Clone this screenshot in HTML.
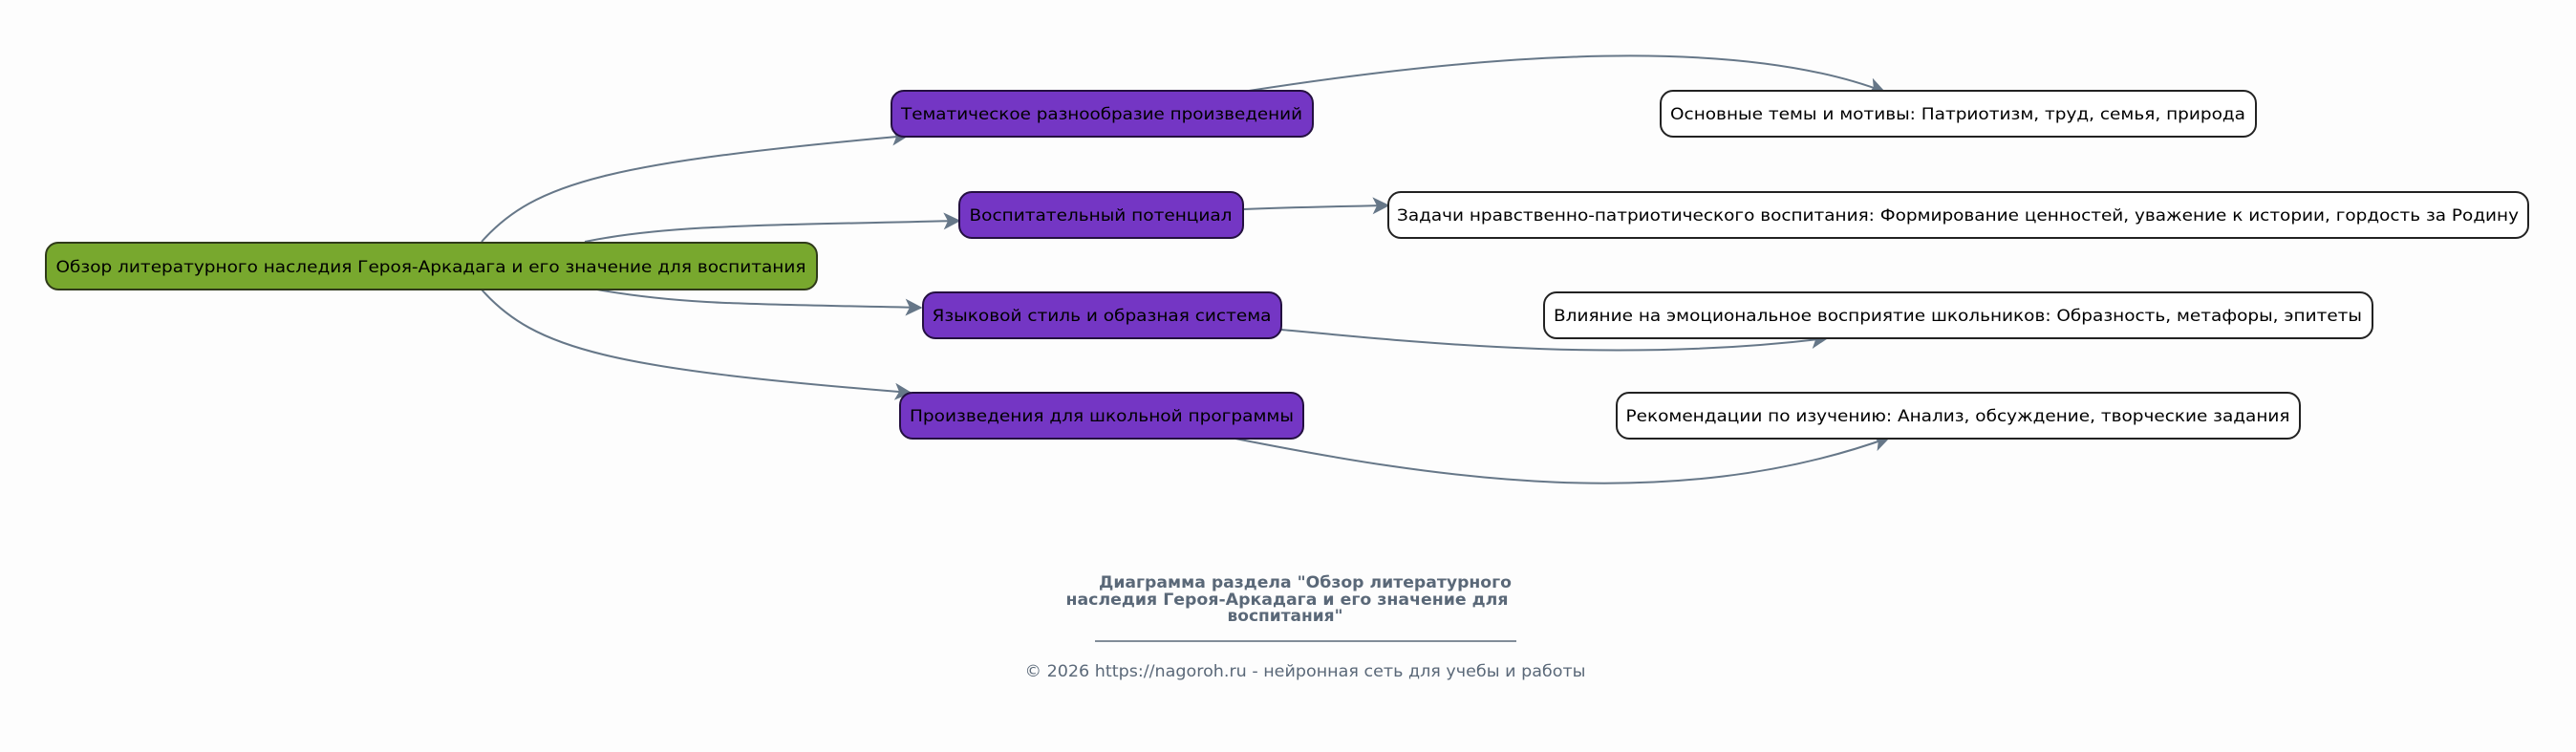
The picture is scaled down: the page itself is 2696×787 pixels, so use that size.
<!DOCTYPE html>
<html><head><meta charset="utf-8"><style>
html,body{margin:0;padding:0;background:#fdfdfd;}
svg{display:block;}
text{font-family:"DejaVu Sans","Liberation Sans",sans-serif;}
</style></head><body>
<svg width="2696" height="787" viewBox="0 0 2696 787" xmlns="http://www.w3.org/2000/svg">
<defs>
<marker id="a" viewBox="0 0 12 12" refX="11" refY="6" markerWidth="18" markerHeight="18" markerUnits="userSpaceOnUse" orient="auto">
<path d="M0,0 L12,6 L0,12 L3,6 Z" fill="#667788"/>
</marker>
</defs>
<rect width="2696" height="787" fill="#fdfdfd"/>
<g fill="none" stroke="#667788" stroke-width="2" marker-end="url(#a)">
<path d="M504,253 C560,190 640,170 950,142"/>
<path d="M612,253 C700,235 800,236 1004,231"/>
<path d="M625,303 C720,320 800,318 964,322"/>
<path d="M504,303 C560,366 640,386 953,411"/>
<path d="M1307,95 C1500,65 1800,30 1972,96"/>
<path d="M1301,219 C1350,217 1400,216 1453,215"/>
<path d="M1341,345 C1500,360 1700,380 1912,354"/>
<path d="M1293,459 C1500,500 1750,540 1977,458"/>
</g>
<g stroke-width="2" font-size="17">
<rect x="48" y="254" width="807" height="49" rx="13" fill="#78a82e" stroke="#2f3a1a"/>
<text x="451" y="285" text-anchor="middle" textLength="785" lengthAdjust="spacingAndGlyphs">Обзор литературного наследия Героя-Аркадага и его значение для воспитания</text>

<rect x="933" y="95" width="441" height="48" rx="13" fill="#7436c4" stroke="#241040"/>
<text x="1153" y="125" text-anchor="middle" textLength="420" lengthAdjust="spacingAndGlyphs">Тематическое разнообразие произведений</text>
<rect x="1004" y="201" width="297" height="48" rx="13" fill="#7436c4" stroke="#241040"/>
<text x="1152" y="231" text-anchor="middle" textLength="275" lengthAdjust="spacingAndGlyphs">Воспитательный потенциал</text>
<rect x="966" y="306" width="375" height="48" rx="13" fill="#7436c4" stroke="#241040"/>
<text x="1153" y="336" text-anchor="middle" textLength="355" lengthAdjust="spacingAndGlyphs">Языковой стиль и образная система</text>
<rect x="942" y="411" width="422" height="48" rx="13" fill="#7436c4" stroke="#241040"/>
<text x="1153" y="441" text-anchor="middle" textLength="402" lengthAdjust="spacingAndGlyphs">Произведения для школьной программы</text>

<rect x="1738" y="95" width="623" height="48" rx="13" fill="#fff" stroke="#222"/>
<text x="2049" y="125" text-anchor="middle" textLength="602" lengthAdjust="spacingAndGlyphs">Основные темы и мотивы: Патриотизм, труд, семья, природа</text>
<rect x="1453" y="201" width="1193" height="48" rx="13" fill="#fff" stroke="#222"/>
<text x="2049" y="231" text-anchor="middle" textLength="1174" lengthAdjust="spacingAndGlyphs">Задачи нравственно-патриотического воспитания: Формирование ценностей, уважение к истории, гордость за Родину</text>
<rect x="1616" y="306" width="867" height="48" rx="13" fill="#fff" stroke="#222"/>
<text x="2049" y="336" text-anchor="middle" textLength="846" lengthAdjust="spacingAndGlyphs">Влияние на эмоциональное восприятие школьников: Образность, метафоры, эпитеты</text>
<rect x="1692" y="411" width="715" height="48" rx="13" fill="#fff" stroke="#222"/>
<text x="2049" y="441" text-anchor="middle" textLength="695" lengthAdjust="spacingAndGlyphs">Рекомендации по изучению: Анализ, обсуждение, творческие задания</text>
</g>
<g fill="#5a6878" font-weight="bold" font-size="17">
<text x="1366" y="615" text-anchor="middle" textLength="432" lengthAdjust="spacingAndGlyphs">Диаграмма раздела "Обзор литературного</text>
<text x="1347" y="633" text-anchor="middle" textLength="463" lengthAdjust="spacingAndGlyphs">наследия Героя-Аркадага и его значение для</text>
<text x="1345" y="650" text-anchor="middle">воспитания"</text>
</g>
<line x1="1146" y1="671" x2="1587" y2="671" stroke="#5a6878" stroke-width="1.5"/>
<text x="1366" y="708" text-anchor="middle" font-size="16.5" fill="#5a6878" textLength="587" lengthAdjust="spacingAndGlyphs">© 2026 https://nagoroh.ru - нейронная сеть для учебы и работы</text>
</svg>
</body></html>
